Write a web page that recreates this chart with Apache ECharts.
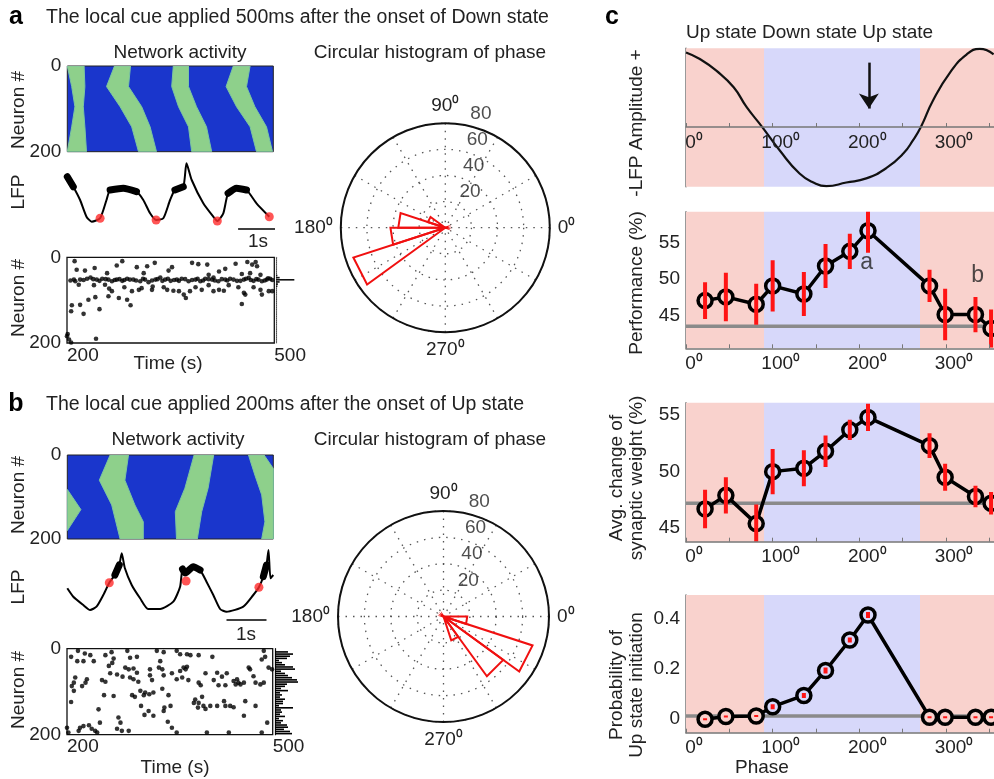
<!DOCTYPE html>
<html><head><meta charset="utf-8">
<script src="https://cdn.jsdelivr.net/npm/echarts@6/dist/echarts.min.js"></script>
<style>html,body{margin:0;padding:0;background:#fff}#c{width:994px;height:779px}</style>
</head><body><div id="c"></div>
<script>
// ---------------- DATA ----------------
// Network activity: green Up-state bands, edges as [time (s), neuron #]
const bandsA = [
  {left:[[0,0],[0.11,48],[0.19,95],[0.11,142],[0,200]], right:[[0.42,0],[0.44,48],[0.40,95],[0.44,142],[0.48,200]]},
  {left:[[1.18,0],[0.98,48],[1.32,95],[1.61,142],[1.78,200]], right:[[1.58,0],[1.53,48],[1.86,95],[2.07,142],[2.23,200]]},
  {left:[[2.65,0],[2.61,48],[2.78,95],[3.03,142],[3.11,200]], right:[[3.03,0],[3.03,48],[3.23,95],[3.48,142],[3.61,200]]},
  {left:[[4.15,0],[3.97,48],[4.23,95],[4.57,142],[4.73,200]], right:[[4.57,0],[4.48,48],[4.69,95],[4.98,142],[5.13,200]]}
];
const bandsB = [
  {left:[[0,82],[0,180]], right:[[0,82],[0.34,130],[0,180]]},
  {left:[[1.07,0],[0.80,60],[1.11,119],[1.32,200]], right:[[1.53,0],[1.44,60],[1.69,119],[1.90,159],[1.90,200]]},
  {left:[[3.17,0],[2.94,79],[2.70,135],[2.73,200]], right:[[3.66,0],[3.52,79],[3.36,135],[3.25,200]]},
  {left:[[4.53,0],[4.69,48],[4.86,95],[4.94,159],[4.86,200]], right:[[4.92,0],[5.15,32],[5.15,200]]}
];
// LFP traces [time (s), amplitude]
const lfpA = [[0,46.3],[0.15,36.3],[0.32,23],[0.48,6.3],[0.61,1.3],[0.82,4.7],[0.98,23],[1.07,33],[1.40,34.7],[1.73,31.3],[1.90,23],[2.07,9.7],[2.22,3],[2.40,4.7],[2.57,23],[2.69,33],[2.90,36.3],[2.98,59.7],[3.11,43],[3.40,19.7],[3.65,6.3],[3.75,2],[3.90,9.7],[4.02,29.7],[4.23,34.7],[4.48,33],[4.73,19.7],[5.05,6.3]];
const lfpAUp = [[0,0.15],[1.07,1.8],[2.69,2.92],[4.02,4.6]];
const cueA = [[0.82,4.7],[2.22,3],[3.75,2],[5.05,6.3]];
const lfpB = [[0,24.7],[0.15,16.3],[0.40,8],[0.57,3],[0.73,6.3],[0.90,18],[1.05,30.3],[1.19,38],[1.30,48],[1.36,59.7],[1.44,44.7],[1.61,28],[1.82,14.7],[2.02,4],[2.32,4],[2.65,11.3],[2.82,26.3],[2.88,44],[2.95,40],[3.15,46.3],[3.32,43],[3.48,31.3],[3.65,18],[3.82,4],[3.98,1.3],[4.40,6.3],[4.65,18],[4.79,25.7],[4.90,36.3],[4.98,48],[5.03,63],[5.08,34.7],[5.15,38]];
const lfpBUp = [[1.19,1.31],[2.88,3.35],[4.9,4.99]];
const cueB = [[1.05,30.3],[2.97,32],[4.79,25.7]];
const scaleBarA = [[4.27,-6],[5.27,-6]];
const scaleBarB = [[3.98,-7],[4.98,-7]];
// Raster plots [time (s), neuron #]
const rasterA = [[211,9],[214,29],[226,31],[240,25],[258,37],[272,19],[280,9],[301,23],[311,37],[316,21],[327,13],[347,31],[352,23],[381,13],[390,16],[403,17],[420,33],[429,27],[444,15],[453,39],[461,11],[468,17],[473,11],[475,21],[465,37],[480,41],
[210,52],[212,56],[219,52],[229,50],[234,47],[243,52],[251,50],[260,52],[265,56],[272,52],[280,55],[287,50],[296,52],[306,56],[313,52],[318,58],[328,52],[335,47],[342,52],[350,55],[359,52],[366,50],[376,56],[386,52],[393,56],[400,50],[410,52],[419,56],[429,52],[436,50],[446,55],[456,52],[463,48],[470,55],[477,52],[482,56],[489,52],[494,50],[205,54],[224,53],[238,51],[247,55],[256,51],[269,53],[276,51],[283,53],[291,52],[300,54],[310,50],[323,54],[331,51],[338,55],[346,50],[355,53],[362,55],[371,51],[381,53],[389,50],[397,54],[405,51],[414,54],[424,51],[432,54],[441,52],[451,55],[459,50],[466,53],[474,51],[486,54],[491,49],[497,53],
[217,64],[239,65],[255,64],[261,73],[265,79],[283,70],[294,79],[304,76],[308,72],[323,76],[324,68],[340,70],[345,76],[354,78],[362,79],[369,87],[372,95],[378,79],[386,70],[395,76],[405,65],[412,79],[420,76],[427,78],[434,65],[448,70],[456,83],[458,87],[470,70],[480,76],[482,87],[492,79],[497,79],[405,41],[412,47],
[207,112],[219,111],[224,132],[231,99],[241,93],[247,121],[260,91],[275,95],[287,99],[292,112],[453,109],[206,126],
[201,179],[203,192],[206,199],[242,190],[200,184]];
const rasterB = [[216,5],[226,11],[234,15],[206,19],[215,29],[224,29],[239,29],[256,15],[265,8],[268,23],[266,33],[261,40],[288,5],[292,21],[302,19],[331,5],[341,8],[336,29],[360,5],[365,13],[375,13],[380,15],[392,15],[412,19],[487,5],[484,25],[489,19],
[285,44],[290,48],[297,46],[302,56],[273,60],[263,57],[281,65],[292,67],[297,71],[304,77],[321,48],[321,62],[334,44],[339,48],[324,73],[341,62],[353,57],[365,52],[370,44],[375,42],[373,48],[360,71],[368,67],[377,73],[392,79],[395,85],[402,57],[414,73],[419,56],[421,85],[431,85],[426,65],[433,57],[443,75],[448,71],[450,79],[453,83],[446,83],[458,79],[465,44],[467,48],[472,64],[475,79],[482,83],[487,79],[494,44],[499,48],[212,67],[210,79],[229,71],[227,79],[251,73],[256,77],
[207,87],[210,98],[222,87],[254,108],[268,110],[295,108],[299,112],[307,98],[312,108],[314,102],[320,106],[326,102],[339,93],[348,108],[308,133],[319,145],[326,156],[313,154],[342,137],[341,145],[351,133],[387,118],[392,126],[397,112],[385,126],[391,137],[399,133],[402,140],[409,133],[419,133],[429,122],[438,133],[443,136],[431,133],[460,122],[475,133],[458,156],[246,141],[275,160],[278,172],[206,124],
[200,184],[202,195],[217,191],[219,184],[224,180],[232,178],[236,186],[241,191],[244,195],[248,172],[273,186],[280,191],[290,191],[347,170],[353,184],[360,195],[404,195],[436,195],[484,195],[492,172]];
// marginal spike-count histograms, 40 bins of 5 neurons
const histBins = Array.from({length:40}, (_, i) => String(i*5));
const margA = [0.6,0.6,0.6,0.6,0.6,0.6,0.6,0.6,1.5,4,20,4,2,1.5,0.6,0.6,0.6,0.6,0.6,0.6,0.6,0.6,0.6,0.6,0.6,0.6,0.6,0.6,0.6,0.6,0.6,0.6,0.6,0.6,0.6,0.6,0.6,0.6,0.6,0.6];
const margB = [0,13,18,15,12,4,7,10,18,20,6,10,13,17,22,23,12,10,6,13,5,7,5,10,8,8,4,18,6,7,5,10,4,8,6,12,13,9,15,17];
// Circular histograms (rose): bin start, bin end (deg), count
const roseStartA = [144,162,180,198], roseEndA = [162,180,198,216], roseCountA = [14,36,42,74];
const roseStartB = [288,306,324,342], roseEndB = [306,324,342,360], roseCountB = [19,56,71,18];
const radialTicks = [20,40,60,80];
// Panel c
const stateBands = [[0,90,'up'],[90,270,'down'],[270,360,'up']];
const phaseTicks = [0,100,200,300];
const lfpC = [[0,1.25],[16,1.14],[35,0.945],[55,0.667],[70,0.333],[88,0],[108,-0.39],[131,-0.78],[147,-0.93],[162,-0.99],[185,-0.93],[208,-0.86],[231,-0.69],[251,-0.44],[262,-0.22],[271,0],[285,0.445],[305,0.92],[324,1.22],[339,1.31],[355,1.22]];
const cueArrow = [[211,1.08],[211,0.31]];
const phases = [22,46,81,100,136,161,189,210,281,299,334,352];
const perfMean = [47.1,47.6,46.6,49.1,48.0,51.8,53.8,56.6,49.1,45.2,45.2,43.3];
const perfErr  = [2.5,3.3,2.8,3.5,3.0,3.0,2.4,3.0,2.2,3.5,2.4,2.6];
const synMean  = [46.7,47.9,45.4,50.0,50.3,51.8,53.7,54.8,52.3,49.5,47.8,47.2];
const synErr   = [1.7,1.6,1.7,2.0,1.6,1.4,0.9,1.2,1.1,1.2,0.95,1.0];
const probMean = [0.0,0.011,0.013,0.05,0.095,0.195,0.317,0.417,0.008,0.008,0.008,0.008];
const probErr  = [0.004,0.004,0.004,0.01,0.01,0.012,0.01,0.012,0.004,0.004,0.004,0.004];
const perfChance = 43.6, synChance = 47.2, probChance = 0.013;
const perfLetters = [[208.4,52.2,'a'],[336.4,50.5,'b']];

// ---------------- STYLE / BUILD ----------------
const FONT = '"Liberation Sans", Arial, Helvetica, sans-serif';
const FS = 19, TXT = '#222';
const GREEN = '#8ed08b', BLUE_BG = '#1a36cc', PINK = '#f9d2cd', LAV = '#d7d8fa';
const CLEAR = 'rgba(0,0,0,0)';

const grids = [
  {left:67.3, top:66, width:206, height:85.7, show:true, backgroundColor:BLUE_BG, borderColor:'#222', borderWidth:1},
  {left:67.3, top:160, width:206, height:63},
  {left:67, top:257.3, width:207.3, height:85.7, show:true, borderColor:'#111', borderWidth:1.3},
  {left:276, top:257.3, width:22, height:85.7},
  {left:67.3, top:455, width:206, height:84, show:true, backgroundColor:BLUE_BG, borderColor:'#222', borderWidth:1},
  {left:67.3, top:548, width:206, height:65},
  {left:67, top:648.7, width:205.7, height:86, show:true, borderColor:'#111', borderWidth:1.3},
  {left:275, top:648.7, width:24, height:86},
  {left:686, top:48.3, width:312, height:138.4},
  {left:686, top:211.7, width:312, height:136.6},
  {left:686, top:402.7, width:312, height:139},
  {left:686, top:595, width:312, height:137.7}
].map(g => Object.assign({outerBoundsMode:'none', containLabel:false}, g));

const hid = (gi, min, max) => ({gridIndex:gi, type:'value', min, max, show:false});
const lab = {fontSize:FS, color:TXT, fontFamily:FONT};
const rasterX = gi => ({gridIndex:gi, type:'value', min:200, max:500, axisLine:{show:false}, axisTick:{show:false}, splitLine:{show:false},
  axisLabel:Object.assign({customValues:[200,500], align:'left', margin:3}, lab)});
const neuronY = gi => ({gridIndex:gi, type:'value', min:0, max:200, inverse:true, axisLine:{show:false}, axisTick:{show:false}, splitLine:{show:false},
  axisLabel:Object.assign({customValues:[0,200], margin:6}, lab)});
const histY = (gi, col) => ({gridIndex:gi, type:'category', data:histBins, inverse:true, axisLine:{show:true, lineStyle:{color:col, width:1.2}}, axisTick:{show:false}, axisLabel:{show:false}, splitLine:{show:false}});
const cX = (gi, offset) => ({gridIndex:gi, type:'value', min:0, max:360, offset:offset || 0, z:10,
  axisLine:{show:true, onZero:false, lineStyle:{color:'#777', width:1.5}},
  axisTick:{show:true, inside:true, length:4, customValues:[0,50,100,150,200,250,300,350], lineStyle:{color:'#777'}},
  axisLabel:Object.assign({customValues:phaseTicks, formatter:v => v + '\u2070', margin:6, padding:[0,0,0,16]}, lab),
  splitLine:{show:false}});
const cY = (gi, min, max, ticks) => ({gridIndex:gi, type:'value', min, max,
  axisLine:{show:true, onZero:false, lineStyle:{color:'#777', width:1.5}},
  axisTick:{show:!!ticks, inside:true, length:4, customValues:ticks || [], lineStyle:{color:'#777'}},
  axisLabel:Object.assign({show:!!ticks, customValues:ticks || [], margin:6}, lab),
  splitLine:{show:false}});

// LFP amplitude axis of panel c: x axis drawn at amplitude 0
const lfpCMin = -1, lfpCMax = 1.32;
const lfpCZeroOffset = -(0 - lfpCMin) / (lfpCMax - lfpCMin) * grids[8].height;

const xAxis = [hid(0,0,5.15), hid(1,0,5.15), rasterX(2), hid(3,0,24), hid(4,0,5.15), hid(5,0,5.15), rasterX(6), hid(7,0,24),
  cX(8, lfpCZeroOffset), cX(9), cX(10), cX(11)];
const yAxis = [neuronY(0), hid(1,0,63), neuronY(2), histY(3,'#999'), neuronY(4), hid(5,0,65), neuronY(6), histY(7,'#111'),
  cY(8,lfpCMin,lfpCMax,null), cY(9,40.6,59.2,[45,50,55]), cY(10,43.8,56.1,[45,50,55]), cY(11,-0.054,0.497,[0,0.2,0.4])];

const series = [];
// network activity bands
function bandSeries(gi, bands){
  const polys = bands.map(b => b.left.concat(b.right.slice().reverse()));
  series.push({type:'custom', xAxisIndex:gi, yAxisIndex:gi, clip:true, silent:true,
    data: polys.map((p, i) => [p[0][0], p[0][1], i]), encode:{x:0, y:1},
    renderItem:(params, api) => ({type:'polygon', shape:{points: polys[api.value(2)].map(pt => api.coord(pt))},
      style:{fill:GREEN, stroke:'#7cc6a0', lineWidth:1}})});
}
bandSeries(0, bandsA); bandSeries(4, bandsB);
// LFP traces
function lfpSeries(gi, data, ups, cues, bar){
  series.push({type:'line', xAxisIndex:gi, yAxisIndex:gi, data, showSymbol:false, symbol:'none', smooth:0.2,
    lineStyle:{color:'#000', width:2}, silent:true, z:2});
  ups.forEach(w => series.push({type:'line', xAxisIndex:gi, yAxisIndex:gi, data:data.filter(p => p[0] >= w[0] && p[0] <= w[1]),
    symbol:'none', smooth:0.2, lineStyle:{color:'#000', width:7, cap:'round', join:'round'}, silent:true, z:2}));
  series.push({type:'scatter', xAxisIndex:gi, yAxisIndex:gi, data:cues, symbol:'circle', symbolSize:9, itemStyle:{color:'#ff2a2a'}, z:4, silent:true});
  series.push({type:'line', xAxisIndex:gi, yAxisIndex:gi, data:bar, symbol:'none', clip:false, lineStyle:{color:'#000', width:1.5}, silent:true});
}
lfpSeries(1, lfpA, lfpAUp, cueA, scaleBarA);
lfpSeries(5, lfpB, lfpBUp, cueB, scaleBarB);
// rasters
[[2, rasterA], [6, rasterB]].forEach(([gi, d]) => series.push({type:'scatter', xAxisIndex:gi, yAxisIndex:gi, data:d,
  symbol:'circle', symbolSize:4.6, itemStyle:{color:'#000'}, silent:true}));
// marginal histograms
[[3, margA, '#111'], [7, margB, '#000']].forEach(([gi, d, c]) => series.push({type:'bar', xAxisIndex:gi, yAxisIndex:gi, data:d,
  barCategoryGap:'25%', itemStyle:{color:c}, silent:true}));
// rose histograms
function roseSeries(pi, st, en, cnt){
  series.push({type:'custom', coordinateSystem:'polar', polarIndex:pi, silent:true, z:5,
    data: cnt.map((c, i) => [c, st[i], en[i]]),
    renderItem:(params, api) => {
      const r = api.value(0), a1 = api.value(1), a2 = api.value(2);
      const o = api.coord([0, a1]), p1 = api.coord([r, a1]), p2 = api.coord([r, a2]);
      return {type:'polygon', shape:{points:[o, p1, p2]}, style:{fill:'none', stroke:'#f01010', lineWidth:2, lineJoin:'miter'}};
    }});
  series.push({type:'scatter', coordinateSystem:'polar', polarIndex:pi, silent:true, symbolSize:1, itemStyle:{color:CLEAR}, z:6,
    data: radialTicks.map(r => [r, 82]),
    label:Object.assign({show:true, formatter:p => String(p.value[0]), position:[11,-19]}, lab)});
}
roseSeries(0, roseStartA, roseEndA, roseCountA);
roseSeries(1, roseStartB, roseEndB, roseCountB);
// panel c
const stateArea = {silent:true, data: stateBands.map(b => [{xAxis:b[0], itemStyle:{color: b[2] === 'up' ? PINK : LAV}}, {xAxis:b[1]}])};
series.push({type:'line', xAxisIndex:8, yAxisIndex:8, data:lfpC, smooth:true, symbol:'none', lineStyle:{color:'#111', width:2.2}, z:3,
  markArea:stateArea,
  markLine:{silent:true, symbol:['none','arrow'], symbolSize:15, label:{show:false}, lineStyle:{color:'#111', width:2.5, type:'solid'},
    data:[[{coord:cueArrow[0]}, {coord:cueArrow[1]}]]}});
const fillFor = p => (p < 90 || p > 270) ? PINK : LAV;
function statPlot(gi, mean, err, chance, letters){
  series.push({type:'line', xAxisIndex:gi, yAxisIndex:gi, data:[[0,chance],[360,chance]], symbol:'none', silent:true,
    lineStyle:{color:'#8a8a8a', width:3.5}, z:2, markArea:stateArea});
  series.push({type:'line', xAxisIndex:gi, yAxisIndex:gi, silent:true, z:3,
    data: phases.map((p, i) => ({value:[p, mean[i]], itemStyle:{color:fillFor(p)}})),
    symbol:'circle', symbolSize:14, showSymbol:true, showAllSymbol:true,
    itemStyle:{borderColor:'#000', borderWidth:3.5}, lineStyle:{color:'#000', width:3.5}});
  series.push({type:'custom', xAxisIndex:gi, yAxisIndex:gi, clip:true, silent:true, z:6,
    data: phases.map((p, i) => [p, mean[i] - err[i], mean[i] + err[i]]), encode:{x:0, y:[1,2]},
    renderItem:(params, api) => {
      const a = api.coord([api.value(0), api.value(1)]), b = api.coord([api.value(0), api.value(2)]);
      return {type:'line', shape:{x1:a[0], y1:a[1], x2:b[0], y2:b[1]}, style:{stroke:'#ff1414', lineWidth:4}};
    }});
  if (letters) series.push({type:'scatter', xAxisIndex:gi, yAxisIndex:gi, data:letters, symbolSize:1, itemStyle:{color:CLEAR}, silent:true, z:7,
    label:{show:true, position:'inside', formatter:p => p.value[2], fontSize:23, color:TXT, fontFamily:FONT}});
}
statPlot(9, perfMean, perfErr, perfChance, perfLetters);
statPlot(10, synMean, synErr, synChance, null);
statPlot(11, probMean, probErr, probChance, null);

// polar systems
const dotted = {color:'#555', width:1.3, type:[1.5,6]};
const polar = [{center:[445.3,227.7], radius:104.5}, {center:[443.5,616.5], radius:105.5}];
const angleAxis = [0,1].map(pi => ({polarIndex:pi, type:'value', min:0, max:360, interval:30, startAngle:0, clockwise:false,
  axisLine:{show:true, lineStyle:{color:'#111', width:2}}, axisTick:{show:false},
  axisLabel:Object.assign({formatter:v => (v % 90 === 0 && v < 360) ? v + '\u2070' : '', margin:8}, lab),
  splitLine:{show:true, lineStyle:dotted}}));
const radiusAxis = [0,1].map(pi => ({polarIndex:pi, type:'value', min:0, max:80, interval:20,
  axisLine:{show:false}, axisTick:{show:false}, axisLabel:{show:false}, splitLine:{show:true, lineStyle:dotted}}));

// text
const T = (text, x, y, o) => Object.assign({type:'text', x, y, silent:true,
  style:Object.assign({text, fontSize:FS, fontFamily:FONT, fill:TXT, align:'center', verticalAlign:'middle'}, (o && o.style) || {})},
  (o && o.rotation) ? {rotation:o.rotation} : {});
const R = Math.PI / 2;
const graphic = [
  T('a', 16, 17, {style:{fontSize:25, fontWeight:'bold', fill:'#000'}}),
  T('The local cue applied 500ms after the onset of Down state', 46, 18, {style:{align:'left', fontSize:19.5}}),
  T('Network activity', 180, 53), T('Circular histogram of phase', 430, 53),
  T('Neuron #', 19, 110, {rotation:R}), T('LFP', 19, 192, {rotation:R}), T('Neuron #', 19, 298, {rotation:R}),
  T('1s', 258, 242), T('Time (s)', 168, 364),
  T('b', 16, 404, {style:{fontSize:25, fontWeight:'bold', fill:'#000'}}),
  T('The local cue applied 200ms after the onset of Up state', 46, 405, {style:{align:'left', fontSize:19.5}}),
  T('Network activity', 178, 440), T('Circular histogram of phase', 430, 440),
  T('Neuron #', 19, 495, {rotation:R}), T('LFP', 19, 587, {rotation:R}), T('Neuron #', 19, 690, {rotation:R}),
  T('1s', 246, 635), T('Time (s)', 175, 768),
  T('c', 612, 17, {style:{fontSize:25, fontWeight:'bold', fill:'#000'}}),
  T('Up state Down state Up state', 686, 33, {style:{align:'left'}}),
  T('-LFP Amplitude +', 637, 123, {rotation:R}),
  T('Performance (%)', 637, 283, {rotation:R}),
  T('Avg. change of\nsynaptic weight (%)', 627, 478, {rotation:R, style:{lineHeight:20}}),
  T('Probability of\nUp state initiation', 627, 685, {rotation:R, style:{lineHeight:20}}),
  T('Phase', 762, 768)
];

const chart = echarts.init(document.getElementById('c'), null, {renderer:'canvas'});
chart.setOption({
  animation:false, backgroundColor:'#fff', textStyle:{fontFamily:FONT},
  grid:grids, xAxis, yAxis, polar, angleAxis, radiusAxis, series, graphic
});
</script></body></html>
